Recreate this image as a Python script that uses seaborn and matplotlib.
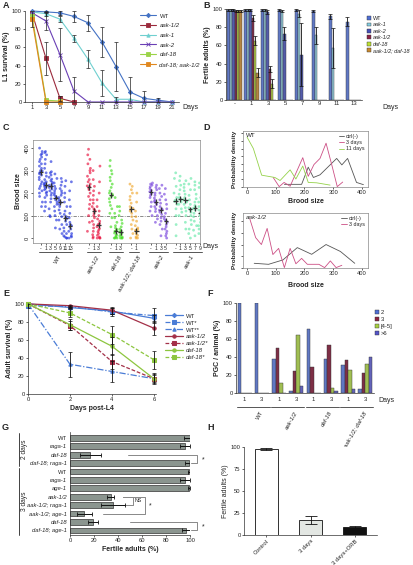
import numpy as np
import pandas as pd
import matplotlib
matplotlib.use('Agg')
import matplotlib.pyplot as plt
import matplotlib.transforms as mtrans
from matplotlib.lines import Line2D
from matplotlib.patches import Patch
import seaborn as sns

# ---------------- data ----------------
# A: L1 survival
a_days = [1, 3, 5, 7, 9, 11, 13, 15, 17, 19, 21]
a_wt = [100, 99, 98, 94, 87, 66, 39, 11, 4, 2, 0]
a_wt_err = [0, 1, 2, 6, 9, 16, 27, 16, 8, 2, 0]
a_aak12 = [98, 48, 4, 0]
a_aak12_err = [0, 18, 3, 0]
a_aak1 = [99, 97, 91, 70, 47, 21, 3, 3, 0, 0, 0]
a_aak1_err = [0, 2, 3, 4, 10, 14, 3, 0, 0, 0, 0]
a_aak2 = [98, 89, 52, 12, 0, 0, 0, 0, 0, 0, 0]
a_aak2_err = [0, 10, 29, 16, 0, 0, 0, 0, 0, 0, 0]
a_daf18 = [95, 2, 1]
a_daf18_err = [0, 0, 0]
a_double = [91, 0, 0]
a_double_err = [9, 0, 0]

# B: fertile adults after L1 arrest
b_days = ['-', '1', '3', '5', '7', '9', '11', '13']
b_strains = ['WT', 'aak-1', 'aak-2', 'aak-1/2', 'daf-18', 'aak-1/2; daf-18']
b_wt = [99, 99, 99, 99, 99, 98, 92, 86]
b_wt_err = [1, 1, 1, 1, 1, 1, 3, 5]
b_aak1 = [99, 99, 99, 98, 95, 71, 57, 0]
b_aak1_err = [1, 1, 1, 1, 4, 9, 22, 0]
b_aak2 = [99, 99, 97, 73, 50, 0, 0, 0]
b_aak2_err = [1, 1, 2, 7, 35, 0, 0, 0]
b_aak12 = [98, 90, 34, 0, 0, 0, 0, 0]
b_aak12_err = [1, 3, 3, 0, 0, 0, 0, 0]
b_daf18 = [98, 65, 18, 0, 0, 0, 0, 0]
b_daf18_err = [1, 5, 5, 0, 0, 0, 0, 0]
b_double = [98, 30, 0, 0, 0, 0, 0, 0]
b_double_err = [1, 5, 0, 0, 0, 0, 0, 0]

# C: brood size per worm (read from the cloud of points)
c_groups = ['WT', 'aak-1/2', 'daf-18', 'aak-1/2; daf-18', 'aak-2', 'aak-1']
c_days = [['-', '1', '3', '5', '9', '11', '13'], ['-', '1', '3'], ['-', '1', '3'],
          ['-', '1'], ['-', '1', '3', '5'], ['-', '1', '3', '5', '7', '9']]
c_wt = [
    [400, 385, 375, 370, 360, 350, 340, 330, 320, 310, 300, 298, 295, 290, 285, 280, 270, 260, 250, 240, 230, 220, 210, 200, 185, 160, 140],
    [385, 380, 370, 350, 330, 310, 290, 275, 260, 250, 245, 240, 235, 232, 228, 220, 215, 205, 200, 190, 180, 160, 140, 120],
    [340, 295, 290, 280, 270, 262, 255, 248, 240, 235, 230, 228, 225, 218, 210, 200, 190, 175, 160, 130, 100, 95],
    [285, 265, 245, 230, 220, 210, 200, 192, 185, 180, 178, 170, 160, 150, 140, 120, 100, 80, 45],
    [265, 250, 235, 220, 210, 200, 190, 180, 170, 162, 158, 150, 140, 125, 110, 95, 80, 60, 40, 20],
    [255, 230, 200, 180, 160, 140, 120, 105, 95, 90, 85, 75, 60, 45, 30, 20, 10, 5, 0, 0],
    [250, 210, 170, 140, 110, 90, 70, 60, 55, 50, 40, 30, 20, 10, 5, 0],
]
c_aak12 = [
    [395, 370, 350, 330, 310, 300, 290, 275, 260, 250, 240, 232, 228, 222, 215, 200, 185, 170, 150, 130, 100, 70, 30],
    [300, 260, 230, 210, 190, 170, 155, 140, 130, 125, 120, 110, 100, 90, 75, 60, 45, 30, 15, 5, 0],
    [320, 250, 200, 170, 140, 120, 100, 85, 75, 65, 60, 55, 50, 42, 35, 28, 20, 12, 5, 0, 0, 0],
]
c_daf18 = [
    [345, 320, 300, 285, 270, 255, 240, 225, 210, 200, 195, 190, 185, 175, 160, 145, 130, 110, 90, 50],
    [180, 140, 110, 90, 70, 55, 45, 38, 32, 30, 28, 22, 15, 10, 5, 0, 0, 0],
    [140, 120, 100, 80, 65, 50, 40, 32, 28, 26, 22, 15, 10, 5, 0, 0, 0],
]
c_double = [
    [240, 230, 215, 200, 185, 170, 155, 140, 132, 128, 120, 110, 95, 80, 60, 40, 20, 0],
    [200, 160, 120, 95, 75, 55, 45, 38, 34, 32, 28, 20, 12, 5, 0, 0],
]
c_aak2 = [
    [245, 240, 235, 228, 220, 212, 206, 204, 198, 190, 180, 160, 140, 120, 100],
    [235, 225, 215, 200, 190, 178, 168, 162, 158, 150, 140, 130, 118, 100, 85, 70],
    [235, 220, 200, 185, 170, 155, 140, 130, 126, 124, 115, 105, 90, 75, 60, 40, 10],
    [220, 195, 170, 150, 130, 110, 95, 85, 78, 76, 70, 60, 50, 40, 30, 20, 10, 0],
]
c_aak1 = [
    [290, 265, 230, 200, 180, 168, 165, 162, 150, 130, 100, 60, 10],
    [275, 255, 235, 215, 195, 180, 174, 170, 160, 150, 130, 115, 100],
    [255, 240, 225, 210, 195, 180, 170, 166, 160, 150, 135, 120, 100, 70, 40],
    [265, 240, 215, 190, 170, 150, 135, 128, 126, 115, 100, 80, 60, 40, 20, 0],
    [250, 235, 215, 195, 175, 160, 145, 137, 133, 125, 110, 95, 75, 55, 35, 10],
    [245, 225, 200, 180, 160, 140, 125, 114, 110, 100, 85, 70, 55, 40, 20, 0],
]
c_medians = [[295, 235, 230, 180, 160, 90, 55], [228, 122, 58], [192, 30, 27],
             [130, 33], [205, 160, 125, 77], [165, 172, 168, 127, 135, 112]]

# D: brood size distributions
d_wt_ctrl_x = [130, 190, 213, 231, 254, 312, 330, 350, 381, 405]
d_wt_ctrl_y = [0.3, 0.3, 2.55, 1.2, 1.55, 3.7, 2.85, 3.7, 0.55, 0.26]
d_wt_3d_x = [91, 112, 129, 150, 194, 213, 233, 254, 275, 295, 314, 333]
d_wt_3d_y = [1.2, 0, 0.55, 0.05, 3.8, 1.35, 2.9, 3.7, 5.7, 2.85, 0, 0.6]
d_wt_11d_x = [0, 22, 51, 97, 115, 150, 170, 194, 213, 242, 289]
d_wt_11d_y = [6.5, 5.0, 1.5, 1.2, 0.8, 2.2, 1.0, 2.7, 0.55, 0.5, 0.2]
d_aak_ctrl_x = [25, 75, 125, 175, 225, 275, 325, 375]
d_aak_ctrl_y = [0.56, 0.43, 1.0, 2.6, 1.73, 3.0, 2.1, 0.56]
d_aak_3d_x = [10, 30, 50, 70, 90, 110, 130, 150, 170, 190, 210, 230, 250, 270, 290, 310, 330]
d_aak_3d_y = [6.3, 3.9, 3.0, 5.1, 1.7, 2.5, 0, 2.5, 0.5, 1.2, 0.43, 0.43, 0.43, 0, 0.87, 0, 0.3]

# E: adult survival
e_days = [0, 2, 4, 6]
e_wt = [100, 96, 92, 84]
e_wt_err = [0, 1, 3, 4]
e_wt1 = [98, 97, 91, 87]
e_wt1_err = [2, 1, 4, 8]
e_wt2 = [100, 33, 25, 17]
e_wt2_err = [0, 14, 12, 5]
e_aak = [100, 98, 93, 73]
e_aak_err = [0, 1, 4, 8]
e_aak1 = [100, 76, 36, 17]
e_aak1_err = [0, 5, 8, 6]
e_daf = [100, 77, 53, 17]
e_daf_err = [0, 6, 10, 4]
e_daf1 = [100, 90, 66, 38]
e_daf1_err = [0, 4, 10, 10]

# F: PGC number per animal
f_groups = ['WT', 'aak-1/2', 'daf-18', 'aak-1/2; daf-18']
f_days = ['1', '3']
f_classes = ['2', '3', '[4-5]', '>6']
f_pgc2 = [100, 100, 38, 2, 71, 38, 31, 4]
f_pgc3 = [0, 0, 50, 24, 29, 53, 37, 22]
f_pgc45 = [0, 0, 11, 65, 0, 6, 26, 32]
f_pgc6 = [0, 0, 0, 8, 0, 2, 4, 40]

# G: fertile adults, horizontal bars
g_labels = ['WT', 'raga-1', 'daf-18', 'daf-18; raga-1',
            'WT', 'raga-1', 'age-1', 'aak-1/2', 'aak-1/2; raga-1', 'aak-1/2; age-1',
            'daf-18', 'daf-18; age-1']
g_vals = [100, 96, 17, 99, 99.5, 96, 99, 34, 36, 12, 19, 97]
g_errs = [5, 4, 9, 3, 1, 4, 1, 3, 10, 6, 4, 4]

# H
h_labels = ['Control', '3 days', '3 days+ORB']
h_vals = [98, 17, 9]
h_errs = [1, 5, 1]

# ---------------- style ----------------
sns.set_theme(style='white')
plt.rcParams['font.family'] = ['Liberation Sans', 'DejaVu Sans']
plt.rcParams.update({
    'font.size': 4.5, 'axes.linewidth': 0.5, 'axes.edgecolor': '#333333',
    'xtick.major.width': 0.5, 'ytick.major.width': 0.5,
    'xtick.major.size': 1.5, 'ytick.major.size': 1.5,
    'xtick.major.pad': 1, 'ytick.major.pad': 1,
    'xtick.bottom': True, 'ytick.left': True,
    'axes.labelpad': 1.5, 'axes.labelsize': 5, 'axes.labelweight': 'bold',
    'xtick.labelsize': 4.2, 'ytick.labelsize': 4.2,
    'legend.fontsize': 4.3,
})

W, H = 413, 565
fig = plt.figure(figsize=(W / 100, H / 100), dpi=100)


def rect(l, t, r, b):
    return fig.add_axes([l / W, 1 - b / H, (r - l) / W, (b - t) / H])


def ftext(x, y, s, **kw):
    fig.text(x / W, 1 - y / H, s, **kw)


def italic_genes(texts):
    for t in texts:
        if t.get_text() not in ('WT', 'WT*', 'WT**', 'ctrl(-)', '3 days', '11 days'):
            t.set_style('italic')


for lab, x, y in [('A', 3, 5), ('B', 203, 5), ('C', 3, 127), ('D', 203, 127),
                  ('E', 3, 293), ('F', 207, 293), ('G', 2, 428), ('H', 207, 428)]:
    ftext(x, y, lab, fontsize=6.5, fontweight='bold', va='center', ha='left')

# ---------------- A ----------------
axA = rect(25, 11, 179, 102)
a_series = [('WT', a_wt, a_wt_err, '#4472C4', 'D', 2.2),
            ('aak-1/2', a_aak12, a_aak12_err, '#9B2A3C', 's', 2.2),
            ('aak-1', a_aak1, a_aak1_err, '#6FD0D0', '^', 2.4),
            ('aak-2', a_aak2, a_aak2_err, '#6A3FB5', 'x', 2.6),
            ('daf-18', a_daf18, a_daf18_err, '#9BD348', 's', 2.4),
            ('daf-18; aak-1/2', a_double, a_double_err, '#E0871E', 's', 2.2)]
for name, vals, errs, col, mk, ms in a_series:
    x = a_days[:len(vals)]
    sns.lineplot(x=x, y=vals, ax=axA, color=col, marker=mk, markersize=ms, lw=0.8,
                 markeredgecolor=col, markeredgewidth=0.6, label=name, clip_on=False)
for name, vals, errs, col, mk, ms in a_series:
    x = np.array(a_days[:len(vals)])
    e = np.array(errs)
    m = e > 0
    axA.errorbar(x[m], np.array(vals)[m], yerr=e[m], fmt='none', ecolor='#222222',
                 elinewidth=0.5, capsize=1.3, capthick=0.5, zorder=5)
axA.set_xlim(0, 22)
axA.set_ylim(0, 100)
axA.set_xticks(a_days)
axA.set_yticks(range(0, 101, 20))
axA.set_xlabel('')
axA.set_ylabel('L1 survival (%)')
sns.despine(ax=axA)
legA = axA.legend(loc='upper left', bbox_to_anchor=(135 / W, 1 - 8 / H), bbox_transform=fig.transFigure,
                  frameon=False, handlelength=2.6, labelspacing=0.75, handletextpad=0.6, fontsize=4.3)
italic_genes(legA.get_texts())
ftext(182, 108, 'Days', fontsize=5, va='center')

# ---------------- B ----------------
axB = rect(226, 9, 362, 100)
b_cols = ['#4F6FD5', '#86CFE3', '#4650B8', '#8B2246', '#BCE032', '#C8892E']
b_all = [b_wt, b_aak1, b_aak2, b_aak12, b_daf18, b_double]
b_all_err = [b_wt_err, b_aak1_err, b_aak2_err, b_aak12_err, b_daf18_err, b_double_err]
dfB = pd.DataFrame([(d, s, v) for s, vals in zip(b_strains, b_all) for d, v in zip(b_days, vals)],
                   columns=['day', 'strain', 'val'])
sns.barplot(data=dfB, x='day', y='val', hue='strain', order=b_days, hue_order=b_strains,
            palette=b_cols, width=0.86, edgecolor='#333333', linewidth=0.3, errorbar=None,
            legend=False, ax=axB)
for cont, errs in zip(axB.containers, b_all_err):
    xs = np.array([p.get_x() + p.get_width() / 2 for p in cont])
    hs = np.array([p.get_height() for p in cont])
    e = np.array(errs)
    m = e > 0
    axB.errorbar(xs[m], hs[m], yerr=e[m], fmt='none', ecolor='#111111', elinewidth=0.6,
                 capsize=1.3, capthick=0.5, zorder=5)
axB.set_ylim(0, 100)
axB.set_xlim(-0.5, 7.5)
axB.set_yticks(range(0, 101, 20))
axB.set_xlabel('')
axB.set_ylabel('Fertile adults (%)')
axB.tick_params(axis='x', length=0)
sns.despine(ax=axB)
legB = axB.legend([Patch(facecolor=c, edgecolor='#333333', lw=0.3) for c in b_cols], b_strains,
                  loc='upper left', bbox_to_anchor=(362 / W, 1 - 11 / H), bbox_transform=fig.transFigure,
                  frameon=False, handlelength=0.7, handleheight=0.7, labelspacing=0.25,
                  handletextpad=0.3, fontsize=4.0)
italic_genes(legB.get_texts())
ftext(382, 108, 'Days', fontsize=5, va='center')

# ---------------- C ----------------
axC = rect(33, 140, 200, 243)
c_gaps = [0, 2.8, 1.5, 1.2, 2.0, 1.0]
c_cols = ['#2233DD', '#E8103C', '#44DD22', '#F0A830', '#7744DD', '#66E8A8']
c_data = [c_wt, c_aak12, c_daf18, c_double, c_aak2, c_aak1]
recs, tick_pos, tick_lab, med_pos, med_val, spans = [], [], [], [], [], []
cur = -1.0
for g, days, groups, meds, gap in zip(c_groups, c_days, c_data, c_medians, c_gaps):
    start = cur + 1 + gap
    for i, (d, vals, md) in enumerate(zip(days, groups, meds)):
        p = start + i
        recs += [(g, p, v) for v in vals]
        tick_pos.append(p)
        tick_lab.append(d)
        med_pos.append(p)
        med_val.append(md)
    cur = start + len(days) - 1
    spans.append((start, cur))
dfC = pd.DataFrame(recs, columns=['geno', 'pos', 'brood'])
sns.stripplot(data=dfC, x='pos', y='brood', hue='geno', hue_order=c_groups, palette=c_cols,
              native_scale=True, jitter=0.33, size=2.0, alpha=0.65, linewidth=0,
              legend=False, ax=axC)
axC.axhline(100, color='#777777', lw=0.6, ls=(0, (4, 1.5, 1, 1.5)), zorder=0)
axC.errorbar(med_pos, med_val, xerr=0.45, yerr=13, fmt='none', ecolor='#333333',
             elinewidth=0.9, zorder=6)
axC.set_xlim(-1.6, 28.8)
axC.set_ylim(-22, 436)
axC.set_xticks(tick_pos)
axC.set_xticklabels(tick_lab, fontsize=3.7)
axC.set_yticks(range(0, 401, 100))
axC.tick_params(axis='y', labelrotation=90)
for t in axC.get_yticklabels():
    t.set_va('center')
axC.set_xlabel('')
axC.set_ylabel('Brood size')
for s in axC.spines.values():
    s.set_color('#888888')
trC = mtrans.blended_transform_factory(axC.transData, axC.transAxes)
for g, (s0, s1) in zip(c_groups, spans):
    axC.plot([s0 - 0.45, s1 + 0.45], [-0.085, -0.085], color='#555555', lw=0.7,
             transform=trC, clip_on=False)
    t = axC.text((s0 + s1) / 2 + 0.6, -0.11, g, transform=trC, rotation=60, ha='right',
                 va='top', rotation_mode='anchor', fontsize=4.3)
    if g != 'WT':
        t.set_style('italic')
ftext(202, 246, 'Days', fontsize=5, va='center')

# ---------------- D ----------------
axD1 = rect(243, 131, 368, 187)
sns.lineplot(x=d_wt_ctrl_x, y=d_wt_ctrl_y, ax=axD1, color='#555555', lw=0.6, label='ctrl(-)')
sns.lineplot(x=d_wt_3d_x, y=d_wt_3d_y, ax=axD1, color='#CC4F85', lw=0.6, label='3 days')
sns.lineplot(x=d_wt_11d_x, y=d_wt_11d_y, ax=axD1, color='#95D24A', lw=0.6, label='11 days')
axD1.set_xlim(-14, 421)
axD1.set_ylim(-0.05, 7.3)
axD1.set_yticks(range(0, 8))
axD1.set_yticklabels([])
axD1.set_xticks(range(0, 401, 100))
axD1.set_xlabel('Brood size', fontsize=5)
axD1.set_ylabel('Probability density', fontsize=4.6)
axD1.text(0.02, 0.97, 'WT', transform=axD1.transAxes, va='top', fontsize=4.5)
axD1.legend(loc='upper right', frameon=False, handlelength=1.0, labelspacing=0.2,
            handletextpad=0.4, fontsize=3.9, borderaxespad=0.2)
axD2 = rect(243, 213, 368, 268)
sns.lineplot(x=d_aak_ctrl_x, y=d_aak_ctrl_y, ax=axD2, color='#555555', lw=0.6, label='ctrl(-)')
sns.lineplot(x=d_aak_3d_x, y=d_aak_3d_y, ax=axD2, color='#CC4F85', lw=0.6, label='3 days')
axD2.set_xlim(-14, 421)
axD2.set_ylim(-0.05, 7.1)
axD2.set_yticks(np.arange(0, 7.1, 1.5))
axD2.set_yticklabels([])
axD2.set_xticks(range(0, 401, 100))
axD2.set_xlabel('Brood size', fontsize=5, labelpad=4)
axD2.set_ylabel('Probability density', fontsize=4.6)
axD2.text(0.02, 0.97, 'aak-1/2', transform=axD2.transAxes, va='top', fontsize=4.5, style='italic')
axD2.legend(loc='upper right', frameon=False, handlelength=1.0, labelspacing=0.2,
            handletextpad=0.4, fontsize=3.9, borderaxespad=0.2)
for ax in (axD1, axD2):
    for s in ax.spines.values():
        s.set_color('#888888')

# ---------------- E ----------------
axE = rect(28, 303, 156, 394)
blue, red, green = '#4A7CD6', '#A33048', '#8DC63F'
e_series = [('WT', e_wt, e_wt_err, blue, '-', 'D', 2.2),
            ('WT*', e_wt1, e_wt1_err, blue, (0, (4, 1.5, 1, 1.5)), 's', 3.2),
            ('WT**', e_wt2, e_wt2_err, blue, (0, (5, 1.5, 1, 1.5)), '^', 2.4),
            ('aak-1/2', e_aak, e_aak_err, red, '-', 'o', 2.4),
            ('aak-1/2*', e_aak1, e_aak1_err, red, (0, (3, 1.5)), 's', 2.4),
            ('daf-18', e_daf, e_daf_err, green, '-', 'o', 2.4),
            ('daf-18*', e_daf1, e_daf1_err, green, (0, (3, 1.5)), 's', 2.4)]
for name, vals, errs, col, ls, mk, ms in e_series:
    sns.lineplot(x=e_days, y=vals, ax=axE, color=col, ls=ls, marker=mk, markersize=ms,
                 markeredgecolor=col, lw=0.9, label=name, clip_on=False)
for name, vals, errs, col, ls, mk, ms in e_series:
    e = np.array(errs)
    m = e > 0
    axE.errorbar(np.array(e_days)[m], np.array(vals)[m], yerr=e[m], fmt='none',
                 ecolor='#111111', elinewidth=0.6, capsize=1.6, capthick=0.5, zorder=5)
axE.set_xlim(0, 6.1)
axE.set_ylim(0, 101)
axE.set_xticks(e_days)
axE.set_yticks(range(0, 101, 20))
axE.set_xlabel('Days post-L4')
axE.set_ylabel('Adult survival (%)')
sns.despine(ax=axE)
legE = axE.legend(loc='upper left', bbox_to_anchor=(160 / W, 1 - 308 / H), bbox_transform=fig.transFigure,
                  frameon=False, handlelength=3.0, labelspacing=0.3, handletextpad=0.5, fontsize=4.3)
italic_genes(legE.get_texts())

# ---------------- F ----------------
axF = rect(236, 303, 374, 393)
f_keys = [f'{g}|{d}' for g in f_groups for d in f_days]
f_cols = ['#4F6FD5', '#8B2240', '#A8D040', '#5555C8']
f_all = [f_pgc2, f_pgc3, f_pgc45, f_pgc6]
dfF = pd.DataFrame([(k, c, v) for c, vals in zip(f_classes, f_all) for k, v in zip(f_keys, vals)],
                   columns=['key', 'pgc', 'val'])
sns.barplot(data=dfF, x='key', y='val', hue='pgc', order=f_keys, hue_order=f_classes,
            palette=f_cols, width=0.82, edgecolor='#333333', linewidth=0.3, errorbar=None,
            legend=False, ax=axF)
axF.set_xlim(-0.5, 7.5)
axF.set_ylim(0, 100)
axF.set_yticks(range(0, 101, 20))
axF.set_xticks(range(8))
axF.set_xticklabels(f_days * 4)
axF.tick_params(axis='x', length=0, pad=3)
axF.set_xlabel('')
axF.set_ylabel('PGC / animal (%)')
sns.despine(ax=axF)
trF = mtrans.blended_transform_factory(axF.transData, axF.transAxes)
for i, g in enumerate(f_groups):
    axF.plot([2 * i - 0.45, 2 * i + 1.45], [-0.15, -0.15], color='#555555', lw=0.7,
             transform=trF, clip_on=False)
    t = axF.text(2 * i + 0.9, -0.19, g, transform=trF, rotation=60, ha='right', va='top',
                 rotation_mode='anchor', fontsize=4.3)
    if g != 'WT':
        t.set_style('italic')
axF.legend([Patch(facecolor=c, edgecolor='#333333', lw=0.3) for c in f_cols], f_classes,
           loc='upper left', bbox_to_anchor=(370 / W, 1 - 305 / H), bbox_transform=fig.transFigure,
           frameon=False, handlelength=0.7, handleheight=0.7, labelspacing=0.3,
           handletextpad=0.3, fontsize=4.2)
ftext(378, 400, 'Days', fontsize=5, va='center')

# ---------------- G ----------------
axG = rect(70, 432, 190, 535)
g_keys = [f'{i}:{l}' for i, l in enumerate(g_labels)]
sns.barplot(x=g_vals, y=g_keys, orient='h', color='#8A968F', edgecolor='#333333',
            linewidth=0.5, width=0.68, errorbar=None, ax=axG)
axG.errorbar(g_vals, range(len(g_vals)), xerr=g_errs, fmt='none', ecolor='#111111',
             elinewidth=0.7, capsize=1.5, capthick=0.6, zorder=5)
axG.set_xlim(0, 100)
axG.set_ylim(11.55, -0.7)
axG.set_xticks(range(0, 101, 20))
axG.set_yticks(range(len(g_labels)))
axG.set_yticklabels(g_labels)
axG.tick_params(axis='y', length=0, pad=2)
italic_genes(axG.get_yticklabels())
axG.set_xlabel('Fertile adults (%)')
axG.set_ylabel('')
sns.despine(ax=axG)
bk = dict(color='#888888', lw=0.7, clip_on=False)
axG.plot([48, 106, 106, 101], [2, 2, 3, 3], **bk)
axG.plot([50, 106, 106, 101], [10, 10, 11, 11], **bk)
axG.plot([44, 62.5, 62.5, 27.5], [7, 7, 9, 9], **bk)
axG.plot([44, 52.5, 52.5, 44], [7, 7, 8, 8], **bk)
axG.text(111, 2.6, '*', fontsize=5, ha='center', va='center')
axG.text(111, 10.6, '*', fontsize=5, ha='center', va='center')
axG.text(67, 8.1, '*', fontsize=5, ha='center', va='center')
axG.text(53.5, 7.5, 'NS', fontsize=3.8, ha='left', va='center')
for lab, y0, y1 in [('2 days', 433, 466), ('3 days', 468, 535)]:
    fig.add_artist(Line2D([19 / W, 19 / W], [1 - y0 / H, 1 - y1 / H], color='#222222', lw=0.6))
    ftext(24, (y0 + y1) / 2, lab, rotation=90, ha='center', va='center', fontsize=4.8)

# ---------------- H ----------------
axH = rect(244, 447, 377, 535)
sns.barplot(x=h_labels, y=h_vals, hue=h_labels, palette=['#FFFFFF', '#E2E8E2', '#111111'],
            edgecolor='#111111', linewidth=0.6, width=0.52, errorbar=None, legend=False, ax=axH)
axH.errorbar(range(3), h_vals, yerr=h_errs, fmt='none', ecolor='#111111', elinewidth=0.6,
             capsize=4, capthick=0.6, zorder=5)
axH.set_xlim(-0.5, 2.5)
axH.set_ylim(0, 100)
axH.set_yticks([0, 25, 50, 75, 100])
axH.set_xlabel('')
axH.set_ylabel('Fertile adults (%)', fontweight='normal', fontsize=5)
axH.tick_params(axis='x', labelrotation=45, length=1.5)
for t in axH.get_xticklabels():
    t.set_ha('right')
    t.set_rotation_mode('anchor')
sns.despine(ax=axH)

fig.savefig('out.png', dpi=100)
